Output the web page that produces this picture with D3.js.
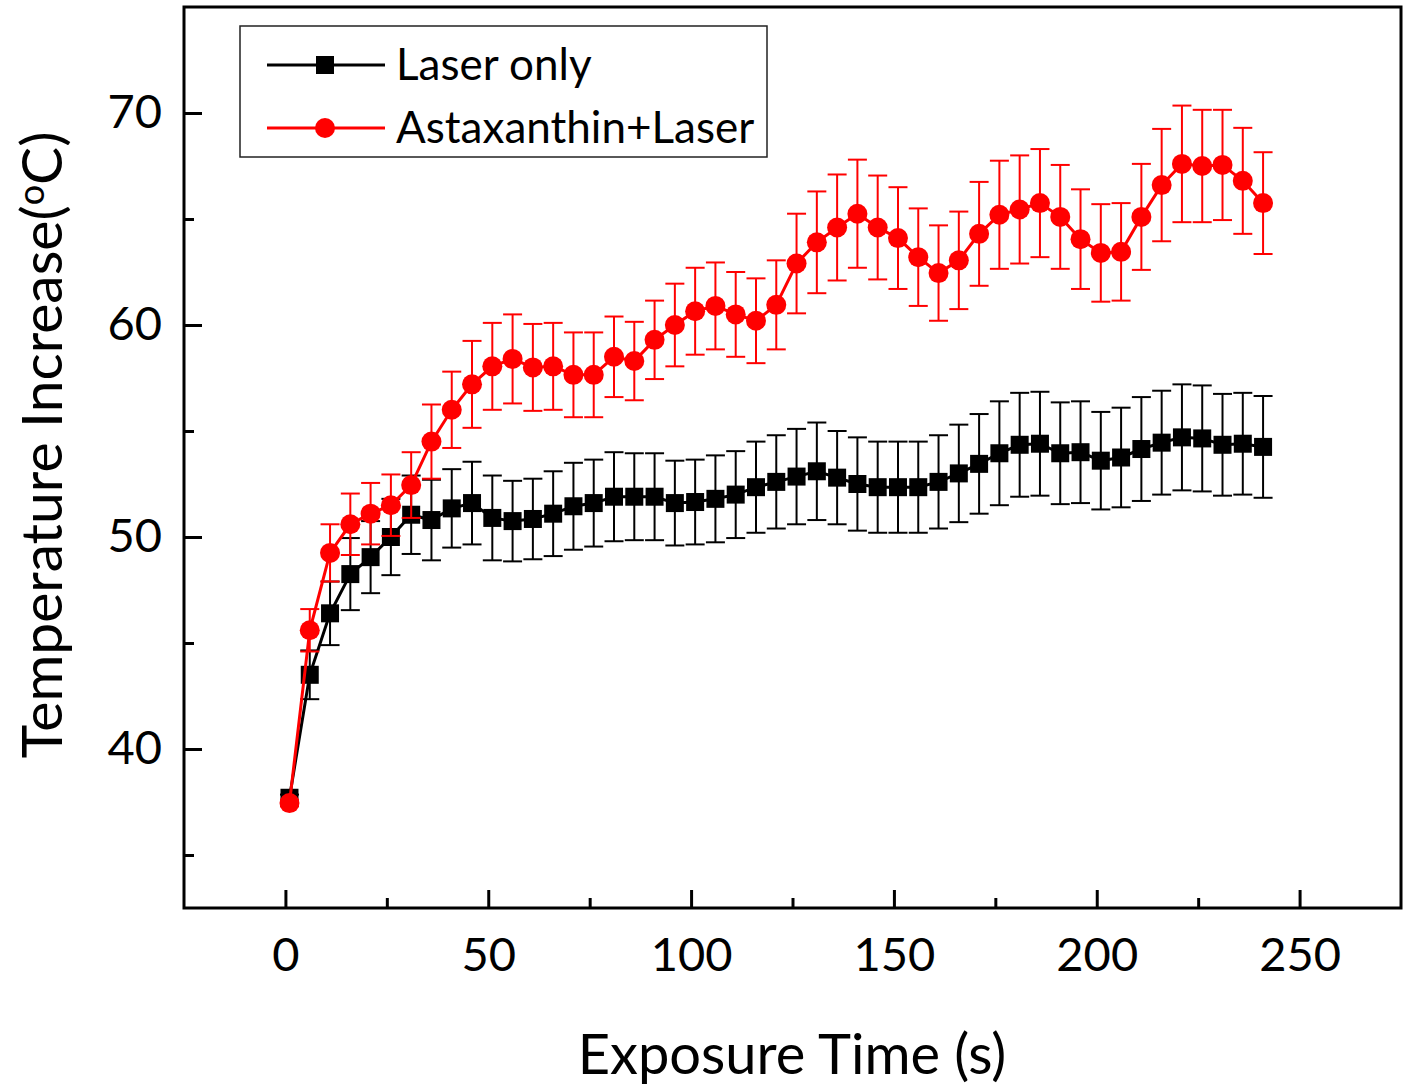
<!DOCTYPE html>
<html>
<head>
<meta charset="utf-8">
<script src="https://cdn.jsdelivr.net/npm/d3@7"></script>
<style>
  html, body { margin: 0; padding: 0; background: #fff; }
  svg { display: block; font-family: Lato, "Open Sans", sans-serif; }
</style>
</head>
<body>
<svg id="chart" width="1407" height="1090"></svg>
<script>
const times = [1,6,11,16,21,26,31,36,41,46,51,56,61,66,71,76,81,86,91,96,
  101,106,111,116,121,126,131,136,141,146,151,156,161,166,171,176,181,186,191,196,
  201,206,211,216,221,226,231,236,241];

const laserOnly = [37.7,43.5,46.4,48.25,49.05,50.0,51.05,50.8,51.35,51.6,
  50.9,50.75,50.85,51.1,51.45,51.6,51.9,51.9,51.9,51.6,
  51.65,51.8,52.0,52.35,52.6,52.85,53.1,52.8,52.5,52.35,
  52.35,52.35,52.6,53.0,53.45,53.95,54.35,54.4,53.95,54.0,
  53.6,53.75,54.15,54.45,54.7,54.65,54.35,54.4,54.25];

const laserOnlyErr = [0.15,1.15,1.5,1.7,1.7,1.8,1.85,1.9,1.85,1.95,
  2.0,1.9,1.9,2.0,2.05,2.05,2.1,2.05,2.05,2.0,
  2.0,2.05,2.05,2.15,2.2,2.25,2.3,2.2,2.2,2.15,
  2.15,2.15,2.2,2.3,2.35,2.45,2.45,2.45,2.4,2.4,
  2.3,2.35,2.45,2.45,2.5,2.5,2.4,2.4,2.4];

const astaLaser = [37.45,45.6,49.25,50.6,51.1,51.5,52.45,54.5,56.0,57.2,
  58.05,58.4,58.0,58.05,57.65,57.65,58.5,58.3,59.3,60.0,
  60.65,60.9,60.5,60.2,60.95,62.9,63.9,64.6,65.25,64.6,
  64.1,63.2,62.45,63.05,64.3,65.2,65.45,65.75,65.1,64.05,
  63.4,63.45,65.1,66.6,67.6,67.5,67.55,66.8,65.75];

const astaLaserErr = [0.15,1.0,1.35,1.45,1.45,1.45,1.55,1.75,1.8,2.05,
  2.05,2.1,2.05,2.05,2.0,2.0,1.9,1.85,1.85,1.95,
  2.05,2.05,2.0,2.0,2.1,2.35,2.4,2.5,2.55,2.45,
  2.4,2.3,2.25,2.3,2.45,2.55,2.55,2.55,2.45,2.35,
  2.3,2.3,2.5,2.65,2.75,2.65,2.6,2.5,2.4];

const seriesNames = ["Laser only", "Astaxanthin+Laser"];
const xMajorTicks = [0,50,100,150,200,250];
const xMinorTicks = [25,75,125,175,225];
const yMajorTicks = [40,50,60,70];
const yMinorTicks = [35,45,55,65];
const xTitle = "Exposure Time (s)";

const svg = d3.select("#chart");
svg.append("rect").attr("width",1407).attr("height",1090).attr("fill","#fff");

const x = d3.scaleLinear().domain([-25,275]).range([184,1401]);
const y = d3.scaleLinear().domain([32.5,75]).range([908,7]);

const pL = 184, pR = 1401, pT = 7, pB = 908;

// minor ticks
const gxMin = svg.append("g").attr("transform",`translate(0,${pB})`)
  .call(d3.axisBottom(x).tickValues(xMinorTicks).tickSize(-10).tickFormat(""));
const gyMin = svg.append("g").attr("transform",`translate(${pL},0)`)
  .call(d3.axisLeft(y).tickValues(yMinorTicks).tickSize(-10).tickFormat(""));
// major ticks
const gx = svg.append("g").attr("transform",`translate(0,${pB})`)
  .call(d3.axisBottom(x).tickValues(xMajorTicks).tickSize(-18).tickPadding(0).tickFormat(d3.format("d")));
const gy = svg.append("g").attr("transform",`translate(${pL},0)`)
  .call(d3.axisLeft(y).tickValues(yMajorTicks).tickSize(-18).tickPadding(0).tickFormat(d3.format("d")));

[gxMin, gyMin, gx, gy].forEach(g => {
  g.select(".domain").remove();
  g.selectAll(".tick line").attr("stroke","#000").attr("stroke-width",3);
});
gx.selectAll(".tick text").attr("y", 63).attr("dy", 0)
  .attr("font-size", 47).attr("font-family","Lato, sans-serif").attr("fill","#000");
gy.selectAll(".tick text").attr("x", -22).attr("dy", 0).attr("y", 14)
  .attr("font-size", 47).attr("font-family","Lato, sans-serif").attr("fill","#000");

// frame
svg.append("rect").attr("x",pL).attr("y",pT).attr("width",pR-pL).attr("height",pB-pT)
  .attr("fill","none").attr("stroke","#000").attr("stroke-width",3);

function drawSeries(vals, errs, color, shape) {
  const data = times.map((t,i) => ({t, v: vals[i], e: errs[i]}));
  const g = svg.append("g");
  const eb = g.append("g").attr("stroke", color).attr("stroke-width", 2);
  data.forEach(d => {
    const cx = x(d.t), y1 = y(d.v + d.e), y2 = y(d.v - d.e);
    eb.append("line").attr("x1",cx).attr("x2",cx).attr("y1",y1).attr("y2",y2);
    eb.append("line").attr("x1",cx-9.5).attr("x2",cx+9.5).attr("y1",y1).attr("y2",y1);
    eb.append("line").attr("x1",cx-9.5).attr("x2",cx+9.5).attr("y1",y2).attr("y2",y2);
  });
  g.append("path").datum(data)
    .attr("d", d3.line().x(d => x(d.t)).y(d => y(d.v)))
    .attr("fill","none").attr("stroke",color).attr("stroke-width",3);
  if (shape === "square") {
    g.selectAll("rect.m").data(data).join("rect").attr("class","m")
      .attr("x", d => x(d.t) - 9).attr("y", d => y(d.v) - 9)
      .attr("width", 18).attr("height", 18).attr("fill", color);
  } else {
    g.selectAll("circle.m").data(data).join("circle").attr("class","m")
      .attr("cx", d => x(d.t)).attr("cy", d => y(d.v)).attr("r", 10).attr("fill", color);
  }
}
drawSeries(laserOnly, laserOnlyErr, "#000", "square");
drawSeries(astaLaser, astaLaserErr, "#ff0000", "circle");

// legend
const lg = svg.append("g");
lg.append("rect").attr("x",240).attr("y",26).attr("width",527).attr("height",131)
  .attr("fill","#fff").attr("stroke","#222").attr("stroke-width",1.5);
const legendItems = [
  {name: seriesNames[0], color: "#000", shape: "square", cy: 65},
  {name: seriesNames[1], color: "#ff0000", shape: "circle", cy: 128}
];
legendItems.forEach(it => {
  lg.append("line").attr("x1",267).attr("x2",385).attr("y1",it.cy).attr("y2",it.cy)
    .attr("stroke",it.color).attr("stroke-width",3);
  if (it.shape === "square") {
    lg.append("rect").attr("x",325-9).attr("y",it.cy-9).attr("width",18).attr("height",18).attr("fill",it.color);
  } else {
    lg.append("circle").attr("cx",325).attr("cy",it.cy).attr("r",10).attr("fill",it.color);
  }
  lg.append("text").attr("x",396).attr("y",it.cy+15).attr("font-size",44)
    .attr("fill","#000").text(it.name);
});

// axis titles
svg.append("text").attr("x",792).attr("y",1074).attr("text-anchor","middle")
  .attr("font-size",56).attr("fill","#000").text(xTitle);

const yt = svg.append("text").attr("transform","translate(62,445) rotate(-90)")
  .attr("text-anchor","middle").attr("font-size",57).attr("fill","#000");
yt.append("tspan").text("Temperature Increase(");
yt.append("tspan").attr("font-size",36).attr("dy",-18).text("o");
yt.append("tspan").attr("dy",18).text("C)");
</script>
</body>
</html>
